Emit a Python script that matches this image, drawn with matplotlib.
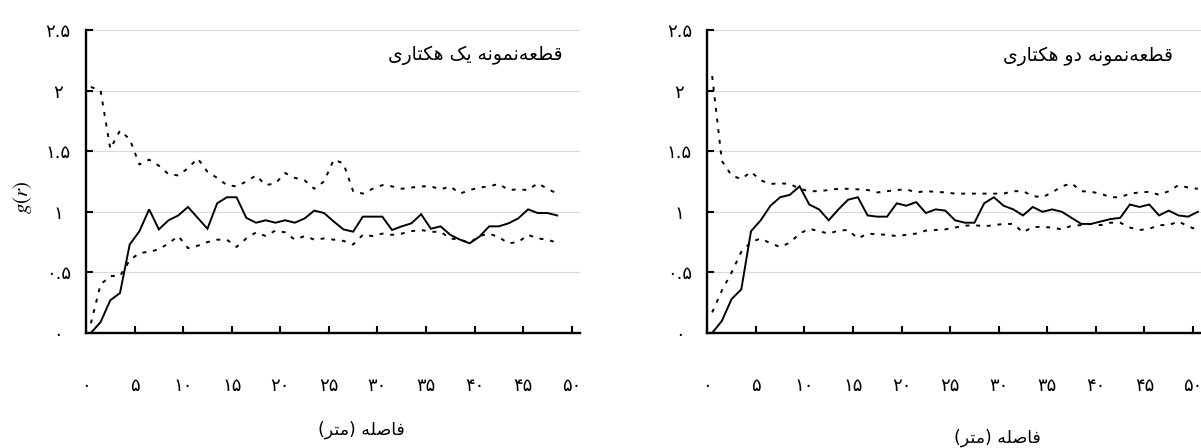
import numpy as np
import matplotlib
matplotlib.use('Agg')
import matplotlib.pyplot as plt

plt.rcParams['font.family'] = ['DejaVu Sans']
plt.rcParams['mathtext.fontset'] = 'stix'

# g(r), one value per metre (first at 0.5 m)
left_solid = [0.0, 0.09, 0.27, 0.33, 0.73, 0.84, 1.02, 0.855, 0.93, 0.97,
              1.04, 0.95, 0.86, 1.07, 1.12, 1.12, 0.95, 0.91, 0.93, 0.91,
              0.93, 0.91, 0.945, 1.01, 0.99, 0.92, 0.855, 0.836, 0.96, 0.96,
              0.96, 0.85, 0.88, 0.905, 0.98, 0.86, 0.88, 0.81, 0.77, 0.74,
              0.795, 0.88, 0.88, 0.905, 0.946, 1.02, 0.99, 0.99, 0.97]
left_upper = [2.03, 2.0, 1.52, 1.67, 1.60, 1.39, 1.43, 1.38, 1.31, 1.30,
              1.36, 1.44, 1.33, 1.28, 1.22, 1.21, 1.25, 1.30, 1.22, 1.235,
              1.32, 1.28, 1.26, 1.19, 1.25, 1.43, 1.40, 1.17, 1.15, 1.19,
              1.22, 1.21, 1.19, 1.2, 1.21, 1.21, 1.185, 1.21, 1.15, 1.18,
              1.2, 1.21, 1.23, 1.18, 1.185, 1.18, 1.235, 1.19, 1.15]
left_lower = [0.08, 0.40, 0.47, 0.47, 0.60, 0.66, 0.67, 0.69, 0.74, 0.80,
              0.70, 0.72, 0.75, 0.77, 0.77, 0.71, 0.78, 0.83, 0.80, 0.845,
              0.83, 0.77, 0.80, 0.77, 0.78, 0.77, 0.76, 0.73, 0.81, 0.80,
              0.82, 0.81, 0.82, 0.84, 0.85, 0.835, 0.835, 0.78, 0.77, 0.745,
              0.80, 0.82, 0.79, 0.74, 0.75, 0.81, 0.78, 0.77, 0.745]

right_solid = [0.0, 0.10, 0.28, 0.36, 0.84, 0.93, 1.05, 1.12, 1.14, 1.21,
               1.06, 1.02, 0.93, 1.02, 1.10, 1.12, 0.97, 0.96, 0.96, 1.07,
               1.05, 1.08, 0.99, 1.02, 1.01, 0.93, 0.91, 0.91, 1.07, 1.12,
               1.05, 1.02, 0.97, 1.04, 1.0, 1.02, 1.0, 0.95, 0.90, 0.90,
               0.92, 0.94, 0.95, 1.06, 1.04, 1.06, 0.97, 1.01, 0.97, 0.96, 1.0]
right_upper = [2.12, 1.42, 1.30, 1.27, 1.33, 1.26, 1.23, 1.235, 1.23, 1.19,
               1.17, 1.17, 1.18, 1.19, 1.19, 1.185, 1.18, 1.16, 1.17, 1.18,
               1.185, 1.16, 1.17, 1.165, 1.16, 1.15, 1.15, 1.15, 1.15, 1.15,
               1.15, 1.17, 1.17, 1.13, 1.12, 1.16, 1.21, 1.235, 1.17, 1.165,
               1.15, 1.12, 1.12, 1.15, 1.16, 1.165, 1.14, 1.17, 1.22, 1.20, 1.19]
right_lower = [0.17, 0.35, 0.50, 0.67, 0.75, 0.78, 0.74, 0.71, 0.745, 0.82,
               0.86, 0.84, 0.82, 0.845, 0.85, 0.78, 0.82, 0.815, 0.81, 0.80,
               0.81, 0.82, 0.845, 0.85, 0.855, 0.87, 0.885, 0.89, 0.88, 0.89,
               0.90, 0.90, 0.83, 0.875, 0.875, 0.87, 0.855, 0.885, 0.89, 0.90,
               0.89, 0.91, 0.91, 0.87, 0.85, 0.86, 0.89, 0.89, 0.92, 0.88, 0.85]

panel_titles = ['قطعه\u200cنمونه یک هکتاری', 'قطعه\u200cنمونه دو هکتاری']
x_label = 'فاصله (متر)'
x_ticks = [0, 5, 10, 15, 20, 25, 30, 35, 40, 45, 50]
y_ticks = [0, 0.5, 1, 1.5, 2, 2.5]

# matplotlib does no arabic shaping, so pick presentation forms by hand
FORMS = {
    'ا': '\uFE8D\uFE8E', 'د': '\uFEA9\uFEAA', 'ر': '\uFEAD\uFEAE', 'و': '\uFEED\uFEEE',
    'ت': '\uFE95\uFE96\uFE97\uFE98', 'ص': '\uFEB9\uFEBA\uFEBB\uFEBC',
    'ط': '\uFEC1\uFEC2\uFEC3\uFEC4', 'ع': '\uFEC9\uFECA\uFECB\uFECC',
    'ف': '\uFED1\uFED2\uFED3\uFED4', 'ق': '\uFED5\uFED6\uFED7\uFED8',
    'ل': '\uFEDD\uFEDE\uFEDF\uFEE0', 'م': '\uFEE1\uFEE2\uFEE3\uFEE4',
    'ن': '\uFEE5\uFEE6\uFEE7\uFEE8', 'ه': '\uFEE9\uFEEA\uFEEB\uFEEC',
    'ک': '\uFB8E\uFB8F\uFB90\uFB91', 'ی': '\uFBFC\uFBFD\uFBFE\uFBFF',
}


def shape(text):
    out = []
    for i, ch in enumerate(text):
        if ch not in FORMS:
            if ch != '\u200c':
                out.append(ch)
            continue
        prev = text[i - 1] if i > 0 else ''
        nxt = text[i + 1] if i + 1 < len(text) else ''
        f = FORMS[ch]
        j_prev = prev in FORMS and len(FORMS[prev]) == 4
        j_next = len(f) == 4 and nxt in FORMS
        if j_prev and j_next:
            out.append(f[3])
        elif j_prev:
            out.append(f[1])
        elif j_next:
            out.append(f[2])
        else:
            out.append(f[0])
    vis = ''.join(out)[::-1]
    return vis.translate(str.maketrans('()', ')('))


def fa_num(v):
    s = f'{v:g}'
    return s.translate(str.maketrans('0123456789', '۰۱۲۳۴۵۶۷۸۹'))


W, H = 1201, 448
fig = plt.figure(figsize=(W / 100, H / 100), dpi=100)

panels = [
    (86, left_solid, left_upper, left_lower, (49.1, 2.29), (361, 430)),
    (707.3, right_solid, right_upper, right_lower, (47.9, 2.28), (997, 438)),
]

for k, (x0, solid, upper, lower, tpos, lpos) in enumerate(panels):
    ax = fig.add_axes([x0 / W, (H - 333) / H, 493.5 / W, 303 / H])
    r = np.arange(len(solid)) + 0.5
    ax.plot(r, solid, color='black', lw=1.4, solid_joinstyle='miter')
    for env in (upper, lower):
        ax.plot(r, env, color='black', lw=1.4, linestyle=(0, (2, 3.5)))

    ax.set_xlim(0, 50.8)
    ax.set_ylim(0, 2.5)
    ax.set_xticks(x_ticks)
    ax.set_xticklabels([fa_num(t) for t in x_ticks])
    ax.set_yticks(y_ticks)
    ax.set_yticklabels([fa_num(t) for t in y_ticks])
    ax.tick_params(axis='both', direction='in', length=5, width=1.5,
                   labelsize=13, color='black')
    ax.tick_params(axis='x', pad=32)
    ax.tick_params(axis='y', pad=20)
    for lab in ax.get_yticklabels():
        lab.set_ha('center')
    ax.yaxis.grid(True, color='#d9d9d9', lw=0.8)
    ax.set_axisbelow(True)
    for side in ('top', 'right'):
        ax.spines[side].set_visible(False)
    for side in ('left', 'bottom'):
        ax.spines[side].set_linewidth(1.7)

    ax.text(tpos[0], tpos[1], shape(panel_titles[k]), ha='right', va='center',
            fontsize=13.5)
    fig.text(lpos[0] / W, 1 - lpos[1] / H, shape(x_label), ha='center',
             va='center', fontsize=12.5)

fig.text(22 / W, 1 - 197 / H, '$g(r)$', rotation=90, ha='center', va='center',
         fontsize=15)

fig.savefig('out.png', dpi=100)
